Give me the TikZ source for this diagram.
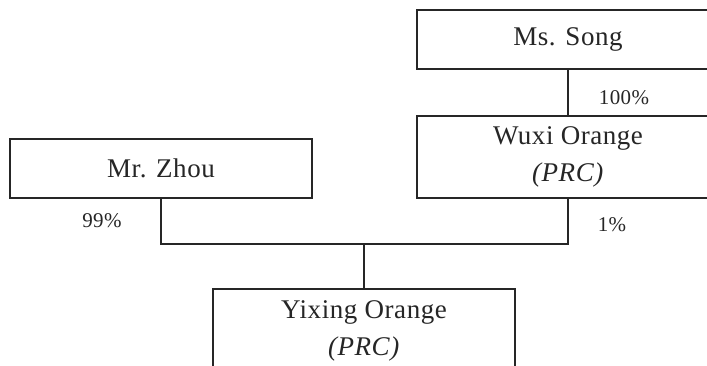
\documentclass[tikz,border=0pt]{standalone}
\usepackage{fontspec}
\setmainfont{Liberation Serif}
\newfontfamily\boxfont[LetterSpace=2]{Liberation Serif}
\usetikzlibrary{positioning}

\begin{document}
\begin{tikzpicture}[x=1pt, y=-1pt, line cap=rect, line join=miter]
		
		% page frame, boxes running off the edges are cut here
		\useasboundingbox (0,0) rectangle (707,365);
		\clip (0,0) rectangle (707,365);
		
		\tikzset{
			holder/.style={draw=black!85, line width=1.2pt, fill=white, minimum width=302pt,
				align=center, font=\boxfont\fontsize{27}{37}\selectfont, text=black!85, inner sep=0pt},
			share/.style={font=\boxfont\fontsize{21}{24}\selectfont, text=black!85},
			link/.style={draw=black!85, line width=1.2pt}
		}
		
		% owners and companies
		\node[holder, minimum height=59pt] (song) at (568,39.5) {Ms. Song};
		\node[holder, minimum height=82pt] (wuxi) at (568,157) {Wuxi Orange\\\textit{(PRC)}};
		\node[holder, minimum height=59pt] (zhou) at (161,168.5) {Mr. Zhou};
		\node[holder, minimum height=83pt] (yixing) at (364,330.5) {Yixing Orange\\\textit{(PRC)}};
		
		% ownership lines
		\coordinate (join) at (364,244);
		\draw[link] (song.south) -- (wuxi.north);
		\draw[link] (zhou.south) |- (join) -| (wuxi.south);
		\draw[link] (join) -- (yixing.north);
		
		% percentages
		\node[share] (pSong) at (624,98) {100\%};
		\node[share] (pWuxi) at (612,225) {1\%};
		\node[share] (pZhou) at (102,221) {99\%};
		
	\end{tikzpicture}
\end{document}
